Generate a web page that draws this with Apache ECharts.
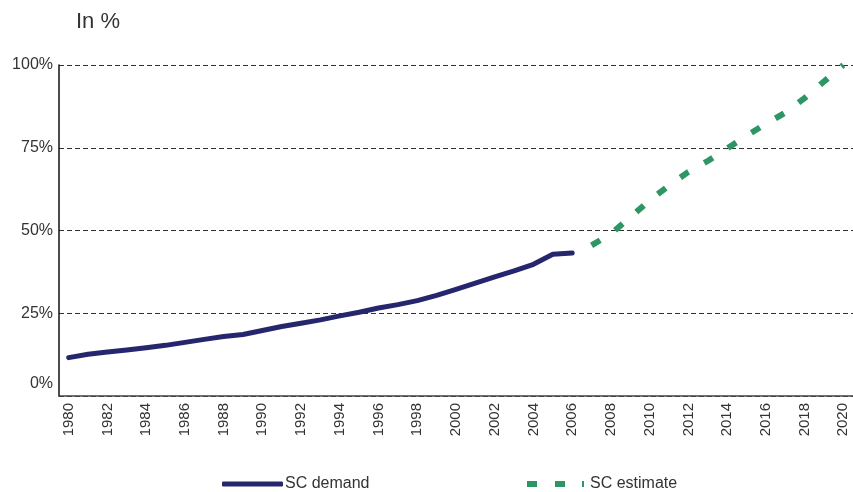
<!DOCTYPE html>
<html>
<head>
<meta charset="utf-8">
<script src="https://cdn.jsdelivr.net/npm/echarts@6/dist/echarts.min.js"></script>
<style>
  html, body { margin: 0; padding: 0; background: #fff; }
  #chart { width: 853px; height: 492px; }
</style>
</head>
<body>
<div id="chart"></div>
<script>
// Years on the category axis
const years = [];
for (let y = 1980; y <= 2020; y++) years.push(String(y));

// Observed SC demand share, 1980–2006 (%)
const scDemand = [
  11.6, 12.6, 13.3, 13.9, 14.6, 15.3, 16.2, 17.1, 18.0, 18.6,
  19.8, 21.0, 22.0, 23.0, 24.2, 25.3, 26.6, 27.6, 28.8, 30.4,
  32.2, 34.1, 36.0, 37.8, 39.8, 42.8, 43.2
];

// Projected SC share, 2007–2020 (%)
const scEstimate = [
  45.5, 49.0, 54.0, 59.1, 63.6, 67.7, 71.0, 74.8, 78.6, 82.2,
  85.6, 90.0, 95.0, 100.0
];

// Y axis ticks
const yTicks = [0, 25, 50, 75, 100];

const demandSeries = years.map((_, i) => (i < scDemand.length ? scDemand[i] : null));
const estimateStart = years.indexOf('2007');
const estimateSeries = years.map((_, i) =>
  i >= estimateStart && i - estimateStart < scEstimate.length ? scEstimate[i - estimateStart] : null);

const FONT = '"Liberation Sans", Arial, sans-serif';
const NAVY = '#25266e';
const GREEN = '#2e9664';

const chart = echarts.init(document.getElementById('chart'));
chart.setOption({
  animation: false,
  backgroundColor: '#ffffff',
  title: {
    text: 'In %',
    left: 71,
    top: 6,
    textStyle: { fontFamily: FONT, fontSize: 22, fontWeight: 'normal', color: '#333' }
  },
  legend: [
    {
      data: [{ name: 'SC demand', icon: 'roundRect' }],
      left: 217,
      top: 471,
      itemWidth: 61,
      itemHeight: 5,
      itemGap: 0,
      itemStyle: { color: NAVY, borderWidth: 0 },
      textStyle: { fontFamily: FONT, fontSize: 16, color: '#333', padding: [0, 0, 0, -3] }
    },
    {
      data: [{ name: 'SC estimate', icon: 'path://M0,0h10v6h-10z M28,0h10v6h-10z M55,0h2v6h-2z' }],
      left: 522,
      top: 471,
      itemWidth: 57,
      itemHeight: 6,
      itemGap: 0,
      itemStyle: { color: GREEN, borderWidth: 0 },
      textStyle: { fontFamily: FONT, fontSize: 16, color: '#333', padding: [0, 0, 0, 1] }
    }
  ],
  grid: { left: 59, right: 0, top: 65, bottom: 96 },
  xAxis: {
    type: 'category',
    data: years,
    boundaryGap: true,
    axisLine: { lineStyle: { color: '#444', width: 1.5 } },
    axisTick: { show: false },
    axisLabel: {
      interval: 1,
      rotate: 90,
      margin: 7,
      fontFamily: FONT,
      fontSize: 15,
      color: '#333'
    }
  },
  yAxis: {
    type: 'value',
    min: yTicks[0],
    max: yTicks[yTicks.length - 1],
    interval: 25,
    axisLine: { show: true, lineStyle: { color: '#111', width: 1.5 } },
    axisTick: { show: false },
    axisLabel: {
      margin: 6,
      fontFamily: FONT,
      fontSize: 16,
      color: '#333',
      formatter: v => (v === 0 ? '{z|0%}' : v + '%'),
      rich: {
        z: { fontFamily: FONT, fontSize: 16, color: '#333', padding: [0, 0, 24, 0] }
      }
    },
    splitLine: {
      show: true,
      lineStyle: { color: '#333', width: 1, type: [5, 3] }
    }
  },
  series: [
    {
      name: 'SC demand',
      type: 'line',
      data: demandSeries,
      symbol: 'none',
      smooth: false,
      lineStyle: { color: NAVY, width: 5, cap: 'round', join: 'round' },
      itemStyle: { color: NAVY },
      z: 3
    },
    {
      name: 'SC estimate',
      type: 'line',
      data: estimateSeries,
      symbol: 'none',
      smooth: false,
      lineStyle: { color: GREEN, width: 6, type: [10, 18] },
      itemStyle: { color: GREEN },
      z: 3
    }
  ]
});
</script>
</body>
</html>
